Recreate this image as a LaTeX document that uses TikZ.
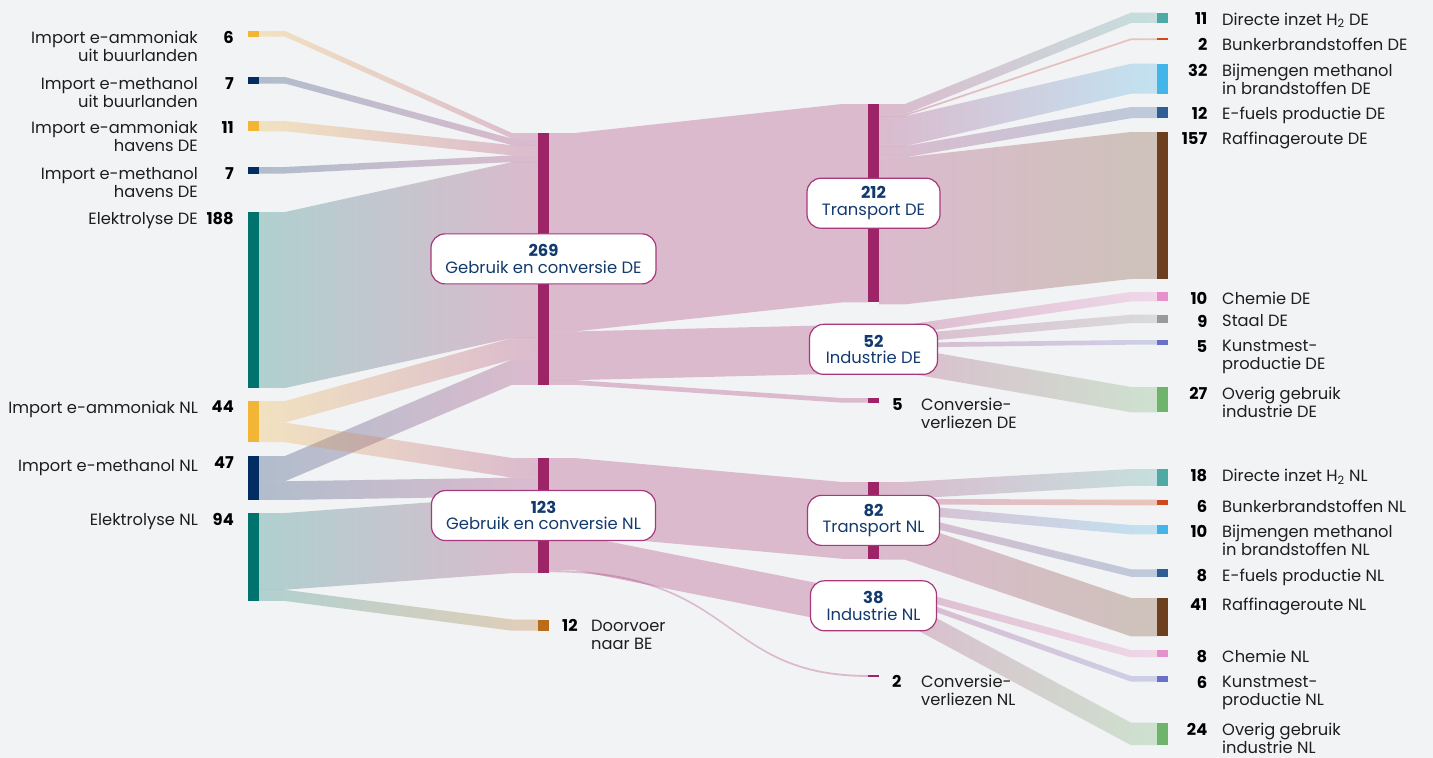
\documentclass[tikz,border=0pt]{standalone}
\usepackage{fontspec}
\setmainfont{Poppins}
\usetikzlibrary{calc,positioning}

\definecolor{bgfill}{HTML}{F2F3F4}
\definecolor{ammo}{HTML}{F2B535}
\definecolor{meth}{HTML}{012D63}
\definecolor{elek}{HTML}{00736F}
\definecolor{gebr}{HTML}{9E2468}
\definecolor{gebrline}{HTML}{A8387C}
\definecolor{door}{HTML}{B96C19}
\definecolor{htwee}{HTML}{4FAAA5}
\definecolor{bunk}{HTML}{D0481B}
\definecolor{bijm}{HTML}{43B6E9}
\definecolor{efuel}{HTML}{2E5E96}
\definecolor{raff}{HTML}{6E3F1E}
\definecolor{chem}{HTML}{E890CC}
\definecolor{staal}{HTML}{9A9A9A}
\definecolor{kunst}{HTML}{6A70C7}
\definecolor{overig}{HTML}{6EB46C}
\definecolor{navy}{HTML}{133A6E}
\definecolor{ink}{HTML}{1E1E1E}

\pgfdeclarelayer{back}
\pgfsetlayers{back,main}

\def\flowscale{0.936}

% #1 from, #2 offset at from, #3 to, #4 offset at to, #5 value, #6/#7 colours
\newcommand\flow[7]{%
  \coordinate (fa) at ($(#1.north east)+(0,{#2*\flowscale})$);
  \coordinate (fb) at ($(#3.north west)+(0,{#4*\flowscale})$);
  \path[band,left color=#6,right color=#7]
    (fa) -- ++(26,0) -- ($(fb)+(-26,0)$) -- (fb) -- ++(0,{#5*\flowscale})
    -- ++(-26,0) -- ($(fa)+(26,{#5*\flowscale})$) -- ++(-26,0) -- cycle;
}

\begin{document}
\begin{tikzpicture}[x=1pt,y=-1pt,
  barnode/.style={draw=none,inner sep=0pt,outer sep=0pt,minimum width=11pt,minimum height={#1*\flowscale},anchor=north west},
  band/.style={draw=none,fill opacity=0.27},
  hub/.style={draw=gebrline,line width=1.2pt,fill=white,rounded corners=14pt,minimum height=50pt,inner sep=0pt,align=center,text=navy,font=\fontsize{16.4}{16.5}\selectfont},
  lbl/.style={inner sep=0pt,text=ink,font=\fontsize{16.3}{18}\selectfont},
  num/.style={inner sep=0pt,text=black,font=\fontsize{16.3}{18}\selectfont\bfseries}]

\useasboundingbox (0,0) rectangle (1433,758);

% bronnen
\node[barnode=6,fill=ammo] (impAmBu) at (248,31) {};
\node[barnode=7,fill=meth] (impMeBu) at (248,77) {};
\node[barnode=11,fill=ammo] (impAmDE) at (248,121) {};
\node[barnode=7,fill=meth] (impMeDE) at (248,167) {};
\node[barnode=188,fill=elek] (elDE) at (248,212) {};
\node[barnode=44,fill=ammo] (impAmNL) at (248,401) {};
\node[barnode=47,fill=meth] (impMeNL) at (248,456) {};
\node[barnode=94,fill=elek] (elNL) at (248,513) {};

% gebruik en conversie
\node[barnode=269,fill=gebr] (gcDE) at (538,133) {};
\node[barnode=123,fill=gebr] (gcNL) at (538,458) {};
\node[barnode=12,fill=door] (doorBE) at (538,619.5) {};

% transport, industrie, verliezen
\node[barnode=212,fill=gebr] (trDE) at (868,104) {};
\node[barnode=52,fill=gebr] (inDE) at (868,325) {};
\node[barnode=5,fill=gebr] (cvDE) at (868,398) {};
\node[barnode=82,fill=gebr] (trNL) at (868,482) {};
\node[barnode=38,fill=gebr] (inNL) at (868,588) {};
\node[barnode=2,fill=gebr] (cvNL) at (868,675) {};

% eindgebruik DE
\node[barnode=11,fill=htwee] (h2DE) at (1157,12.7) {};
\node[barnode=2,fill=bunk] (bunDE) at (1157,38.3) {};
\node[barnode=32,fill=bijm] (bijDE) at (1157,63.7) {};
\node[barnode=12,fill=efuel] (efDE) at (1157,107) {};
\node[barnode=157,fill=raff] (rafDE) at (1157,132) {};
\node[barnode=10,fill=chem] (chDE) at (1157,292) {};
\node[barnode=9,fill=staal] (staDE) at (1157,314.7) {};
\node[barnode=5,fill=kunst] (kmDE) at (1157,340) {};
\node[barnode=27,fill=overig] (ovDE) at (1157,387) {};
% eindgebruik NL
\node[barnode=18,fill=htwee] (h2NL) at (1157,469) {};
\node[barnode=6,fill=bunk] (bunNL) at (1157,499.7) {};
\node[barnode=10,fill=bijm] (bijNL) at (1157,525) {};
\node[barnode=8,fill=efuel] (efNL) at (1157,569.3) {};
\node[barnode=41,fill=raff] (rafNL) at (1157,598) {};
\node[barnode=8,fill=chem] (chNL) at (1157,650) {};
\node[barnode=6,fill=kunst] (kmNL) at (1157,676) {};
\node[barnode=24,fill=overig] (ovNL) at (1157,722.7) {};

\begin{pgfonlayer}{back}
\fill[bgfill] (0,0) rectangle (1433,758);
\flow{impAmBu}{0}{gcDE}{0}{6}{ammo}{gebr}
\flow{impMeBu}{0}{gcDE}{6}{7}{meth}{gebr}
\flow{impAmDE}{0}{gcDE}{13}{11}{ammo}{gebr}
\flow{impMeDE}{0}{gcDE}{24}{7}{meth}{gebr}
\flow{elDE}{0}{gcDE}{31}{188}{elek}{gebr}
\flow{impAmNL}{0}{gcDE}{219}{23}{ammo}{gebr}
\flow{impMeNL}{0}{gcDE}{242}{27}{meth}{gebr}
\flow{impAmNL}{23}{gcNL}{0}{21}{ammo}{gebr}
\flow{impMeNL}{27}{gcNL}{21}{20}{meth}{gebr}
\flow{elNL}{0}{gcNL}{41}{82}{elek}{gebr}
\flow{elNL}{82}{doorBE}{0}{12}{elek}{door}
\flow{gcDE}{0}{trDE}{0}{212}{gebr}{gebr}
\flow{gcDE}{212}{inDE}{0}{52}{gebr}{gebr}
\flow{gcDE}{264}{cvDE}{0}{5}{gebr}{gebr}
\flow{gcNL}{0}{trNL}{0}{82}{gebr}{gebr}
\flow{gcNL}{82}{inNL}{0}{38}{gebr}{gebr}
% dunne boog naar verliezen NL
\path[band,left color=gebr,right color=gebr] ($(gcNL.north east)+(0,{120*\flowscale})$) coordinate (ca)
  .. controls ++(190,0) and ($(cvNL.north west)+(-150,0)$) .. (cvNL.north west) -- (cvNL.south west)
  .. controls ($(cvNL.south west)+(-150,0)$) and ($(ca)+(190,{2*\flowscale})$) .. ($(ca)+(0,{2*\flowscale})$) -- cycle;
\flow{trDE}{0}{h2DE}{0}{11}{gebr}{htwee}
\flow{trDE}{11}{bunDE}{0}{2}{gebr}{bunk}
\flow{trDE}{13}{bijDE}{0}{32}{gebr}{bijm}
\flow{trDE}{45}{efDE}{0}{12}{gebr}{efuel}
\flow{trDE}{57}{rafDE}{0}{157}{gebr}{raff}
\flow{inDE}{0}{chDE}{0}{10}{gebr}{chem}
\flow{inDE}{10}{staDE}{0}{9}{gebr}{staal}
\flow{inDE}{19}{kmDE}{0}{5}{gebr}{kunst}
\flow{inDE}{24}{ovDE}{0}{27}{gebr}{overig}
\flow{trNL}{0}{h2NL}{0}{18}{gebr}{htwee}
\flow{trNL}{18}{bunNL}{0}{6}{gebr}{bunk}
\flow{trNL}{24}{bijNL}{0}{10}{gebr}{bijm}
\flow{trNL}{34}{efNL}{0}{8}{gebr}{efuel}
\flow{trNL}{42}{rafNL}{0}{41}{gebr}{raff}
\flow{inNL}{0}{chNL}{0}{8}{gebr}{chem}
\flow{inNL}{8}{kmNL}{0}{6}{gebr}{kunst}
\flow{inNL}{14}{ovNL}{0}{24}{gebr}{overig}
\end{pgfonlayer}

% kaders
\node[hub,minimum width=225pt] (gcDEbox) at (gcDE.center) {\textbf{269}\\Gebruik en conversie DE};
\node[hub,minimum width=224pt] (gcNLbox) at (gcNL.center) {\textbf{123}\\Gebruik en conversie NL};
\node[hub,minimum width=133pt] (trDEbox) at (trDE.center) {\textbf{212}\\Transport DE};
\node[hub,minimum width=128pt] (inDEbox) at (inDE.center) {\textbf{52}\\Industrie DE};
\node[hub,minimum width=132pt] (trNLbox) at (trNL.center) {\textbf{82}\\Transport NL};
\node[hub,minimum width=126pt] (inNLbox) at (inNL.center) {\textbf{38}\\Industrie NL};

% links
\node[num,anchor=north east] at ([xshift=-14pt]impAmBu.north west) {6};
\node[lbl,anchor=north east,align=right] at ([xshift=-50pt]impAmBu.north west) {Import e-ammoniak\\uit buurlanden};
\node[num,anchor=north east] at ([xshift=-14pt]impMeBu.north west) {7};
\node[lbl,anchor=north east,align=right] at ([xshift=-50pt]impMeBu.north west) {Import e-methanol\\uit buurlanden};
\node[num,anchor=north east] at ([xshift=-14pt]impAmDE.north west) {11};
\node[lbl,anchor=north east,align=right] at ([xshift=-50pt]impAmDE.north west) {Import e-ammoniak\\havens DE};
\node[num,anchor=north east] at ([xshift=-14pt]impMeDE.north west) {7};
\node[lbl,anchor=north east,align=right] at ([xshift=-50pt]impMeDE.north west) {Import e-methanol\\havens DE};
\node[num,anchor=north east] at ([xshift=-14pt]elDE.north west) {188};
\node[lbl,anchor=north east] at ([xshift=-50pt]elDE.north west) {Elektrolyse DE};
\node[num,anchor=north east] at ([xshift=-14pt]impAmNL.north west) {44};
\node[lbl,anchor=north east] at ([xshift=-50pt]impAmNL.north west) {Import e-ammoniak NL};
\node[num,anchor=north east] at ([xshift=-14pt]impMeNL.north west) {47};
\node[lbl,anchor=north east] at ([xshift=-50pt,yshift=-3pt]impMeNL.north west) {Import e-methanol NL};
\node[num,anchor=north east] at ([xshift=-14pt]elNL.north west) {94};
\node[lbl,anchor=north east] at ([xshift=-50pt]elNL.north west) {Elektrolyse NL};

% midden
\node[num,anchor=north west] at ([xshift=13pt]doorBE.north east) {12};
\node[lbl,anchor=north west,align=left] at ([xshift=42pt]doorBE.north east) {Doorvoer\\naar BE};
\node[num,anchor=north west] at ([xshift=13pt]cvDE.north east) {5};
\node[lbl,anchor=north west,align=left] at ([xshift=42pt]cvDE.north east) {Conversie-\\verliezen DE};
\node[num,anchor=north west] at ([xshift=13pt]cvNL.north east) {2};
\node[lbl,anchor=north west,align=left] at ([xshift=42pt]cvNL.north east) {Conversie-\\verliezen NL};

% rechts
\node[num,anchor=north east] at ([xshift=39.5pt]h2DE.north east) {11};
\node[lbl,anchor=north west] at ([xshift=54pt]h2DE.north east) {Directe inzet H\textsubscript{2} DE};
\node[num,anchor=north east] at ([xshift=39.5pt]bunDE.north east) {2};
\node[lbl,anchor=north west] at ([xshift=54pt]bunDE.north east) {Bunkerbrandstoffen DE};
\node[num,anchor=north east] at ([xshift=39.5pt]bijDE.north east) {32};
\node[lbl,anchor=north west,align=left] at ([xshift=54pt]bijDE.north east) {Bijmengen methanol\\in brandstoffen DE};
\node[num,anchor=north east] at ([xshift=39.5pt]efDE.north east) {12};
\node[lbl,anchor=north west] at ([xshift=54pt]efDE.north east) {E-fuels productie DE};
\node[num,anchor=north east] at ([xshift=39.5pt]rafDE.north east) {157};
\node[lbl,anchor=north west] at ([xshift=54pt]rafDE.north east) {Raffinageroute DE};
\node[num,anchor=north east] at ([xshift=39.5pt]chDE.north east) {10};
\node[lbl,anchor=north west] at ([xshift=54pt]chDE.north east) {Chemie DE};
\node[num,anchor=north east] at ([xshift=39.5pt]staDE.north east) {9};
\node[lbl,anchor=north west] at ([xshift=54pt]staDE.north east) {Staal DE};
\node[num,anchor=north east] at ([xshift=39.5pt]kmDE.north east) {5};
\node[lbl,anchor=north west,align=left] at ([xshift=54pt]kmDE.north east) {Kunstmest-\\productie DE};
\node[num,anchor=north east] at ([xshift=39.5pt]ovDE.north east) {27};
\node[lbl,anchor=north west,align=left] at ([xshift=54pt]ovDE.north east) {Overig gebruik\\industrie DE};
\node[num,anchor=north east] at ([xshift=39.5pt]h2NL.north east) {18};
\node[lbl,anchor=north west] at ([xshift=54pt]h2NL.north east) {Directe inzet H\textsubscript{2} NL};
\node[num,anchor=north east] at ([xshift=39.5pt]bunNL.north east) {6};
\node[lbl,anchor=north west] at ([xshift=54pt]bunNL.north east) {Bunkerbrandstoffen NL};
\node[num,anchor=north east] at ([xshift=39.5pt]bijNL.north east) {10};
\node[lbl,anchor=north west,align=left] at ([xshift=54pt]bijNL.north east) {Bijmengen methanol\\in brandstoffen NL};
\node[num,anchor=north east] at ([xshift=39.5pt]efNL.north east) {8};
\node[lbl,anchor=north west] at ([xshift=54pt]efNL.north east) {E-fuels productie NL};
\node[num,anchor=north east] at ([xshift=39.5pt]rafNL.north east) {41};
\node[lbl,anchor=north west] at ([xshift=54pt]rafNL.north east) {Raffinageroute NL};
\node[num,anchor=north east] at ([xshift=39.5pt]chNL.north east) {8};
\node[lbl,anchor=north west] at ([xshift=54pt]chNL.north east) {Chemie NL};
\node[num,anchor=north east] at ([xshift=39.5pt]kmNL.north east) {6};
\node[lbl,anchor=north west,align=left] at ([xshift=54pt]kmNL.north east) {Kunstmest-\\productie NL};
\node[num,anchor=north east] at ([xshift=39.5pt]ovNL.north east) {24};
\node[lbl,anchor=north west,align=left] at ([xshift=54pt]ovNL.north east) {Overig gebruik\\industrie NL};
\end{tikzpicture}
\end{document}
